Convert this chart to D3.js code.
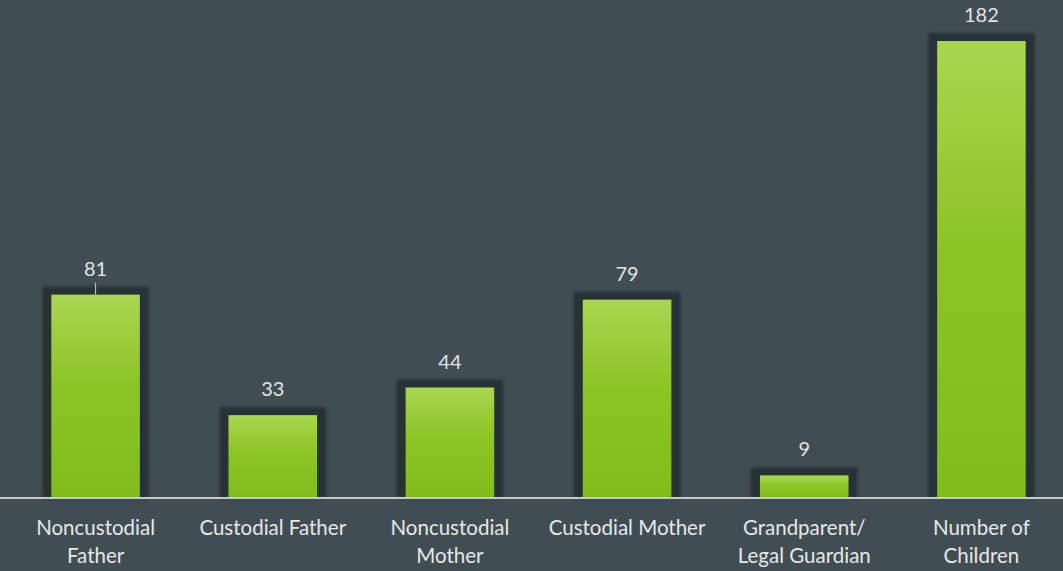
<!DOCTYPE html>
<html>
<head>
<meta charset="utf-8">
<script src="https://cdn.jsdelivr.net/npm/d3@7"></script>
<style>
  html, body { margin: 0; padding: 0; background: #404d53; }
  svg { display: block; }
</style>
</head>
<body>
<script>
var categories = [["Noncustodial", "Father"], ["Custodial Father"], ["Noncustodial", "Mother"],
                  ["Custodial Mother"], ["Grandparent/", "Legal Guardian"], ["Number of", "Children"]];
var values = [81, 33, 44, 79, 9, 182];

var width = 1063, height = 571,
    baseY = 498;

var svg = d3.select("body").append("svg")
    .attr("width", width)
    .attr("height", height);

var defs = svg.append("defs");
var grad = defs.append("linearGradient")
    .attr("id", "barGrad")
    .attr("x1", 0).attr("y1", 0).attr("x2", 0).attr("y2", 1);
grad.append("stop").attr("offset", "0%").attr("stop-color", "#a9d650");
grad.append("stop").attr("offset", "45%").attr("stop-color", "#8cc425");
grad.append("stop").attr("offset", "100%").attr("stop-color", "#80bd1b");

defs.append("filter").attr("id", "soft")
    .attr("x", "-20%").attr("y", "-20%").attr("width", "140%").attr("height", "140%")
    .append("feGaussianBlur").attr("stdDeviation", 1.5);

svg.append("rect")
    .attr("width", width).attr("height", height)
    .attr("fill", "#404d53");

var idx = d3.range(values.length);

var x = d3.scaleBand()
    .domain(idx)
    .range([7, 1070])
    .paddingInner(0.5)
    .paddingOuter(0.25);

var y = d3.scaleLinear()
    .domain([0, 182])
    .range([baseY, 41]);

var bar = svg.selectAll(".bar")
    .data(idx)
    .enter().append("g")
    .attr("class", "bar");

// dark halo behind each bar
bar.append("rect")
    .attr("x", i => x(i) - 9)
    .attr("y", i => y(values[i]) - 8)
    .attr("width", x.bandwidth() + 18)
    .attr("height", i => baseY - y(values[i]) + 8)
    .attr("fill", "#283235")
    .attr("filter", "url(#soft)");

bar.append("rect")
    .attr("x", i => x(i))
    .attr("y", i => y(values[i]))
    .attr("width", x.bandwidth())
    .attr("height", i => baseY - y(values[i]))
    .attr("fill", "url(#barGrad)");

svg.append("line")
    .attr("x1", 0).attr("x2", width)
    .attr("y1", baseY).attr("y2", baseY)
    .attr("stroke", "#c5cbcb")
    .attr("stroke-width", 2);

bar.append("text")
    .attr("x", i => x(i) + x.bandwidth() / 2)
    .attr("y", i => y(values[i]) - 19)
    .attr("text-anchor", "middle")
    .attr("font-family", "Lato, 'Open Sans', sans-serif")
    .attr("font-size", 20)
    .attr("fill", "#e2e4e4")
    .text(i => values[i]);

// leader line on the first label
svg.append("line")
    .attr("x1", x(0) + x.bandwidth() / 2).attr("x2", x(0) + x.bandwidth() / 2)
    .attr("y1", y(values[0]) - 12).attr("y2", y(values[0]))
    .attr("stroke", "#c8cccc")
    .attr("stroke-width", 1);

bar.append("text")
    .attr("text-anchor", "middle")
    .attr("font-family", "Lato, 'Open Sans', sans-serif")
    .attr("font-size", 20.5)
    .attr("fill", "#e6e8e8")
    .selectAll("tspan")
    .data(i => categories[i].map(t => ({ t: t, i: i })))
    .enter().append("tspan")
    .attr("x", d => x(d.i) + x.bandwidth() / 2)
    .attr("y", (d, k) => 535 + k * 28)
    .text(d => d.t);
</script>
</body>
</html>
